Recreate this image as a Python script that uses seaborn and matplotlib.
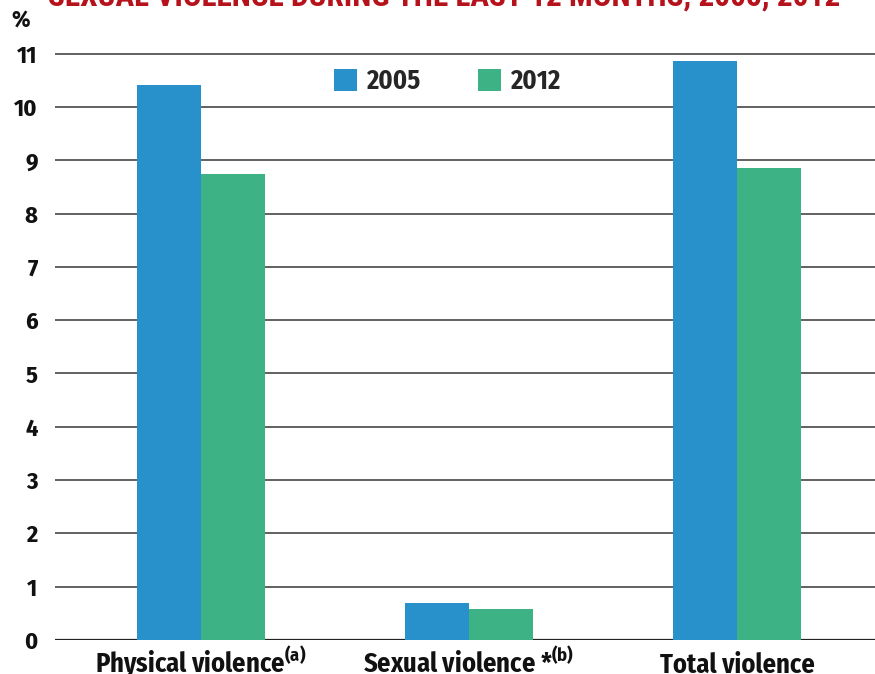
import matplotlib
matplotlib.use("Agg")
import matplotlib.pyplot as plt
from matplotlib.patches import Patch
import seaborn as sns
import pandas as pd

# Share of respondents experiencing violence (%)
categories = ["Physical violence", "Sexual violence *", "Total violence"]
category_labels = [
    r"Physical violence$^{\mathrm{(a)}}$",
    r"Sexual violence *$^{\mathrm{(b)}}$",
    "Total violence",
]
years = ["2005", "2012"]
values_2005 = [10.42, 0.69, 10.87]
values_2012 = [8.75, 0.58, 8.85]
y_ticks = list(range(0, 12))

colors = {"2005": "#2891CB", "2012": "#3DB285"}

df = pd.DataFrame({
    "category": categories * 2,
    "year": [years[0]] * 3 + [years[1]] * 3,
    "value": values_2005 + values_2012,
})

sns.set_theme(style="white")
FONT = ["Fira Sans Condensed", "DejaVu Sans"]
TITLE_FONT = ["Roboto Condensed", "DejaVu Sans"]
plt.rcParams["font.family"] = FONT
plt.rcParams["font.weight"] = "bold"
plt.rcParams["mathtext.fontset"] = "custom"
plt.rcParams["mathtext.rm"] = "Fira Sans Condensed:bold"
plt.rcParams["mathtext.it"] = "Fira Sans Condensed:bold"
plt.rcParams["mathtext.bf"] = "Fira Sans Condensed:bold"

INK = "#111111"
fig = plt.figure(figsize=(8.75, 6.74), dpi=100)
ax = fig.add_axes([55 / 875, 1 - 640 / 674, 1 - 55 / 875, (640 - 52) / 674])

# horizontal reference lines behind the bars
for t in y_ticks:
    ax.axhline(t, color="#222222" if t == 0 else "#555555",
               lw=1.6 if t == 0 else 1.3, zorder=0)

sns.barplot(data=df, x="category", y="value", hue="year", order=categories,
            hue_order=years, palette=colors, width=0.478, dodge=True,
            saturation=1, errorbar=None, ax=ax, zorder=2, legend=False,
            linewidth=0)

ax.set_xlim(-0.545, 2.515)
ax.set_ylim(0, 11.03)
ax.set_yticks(y_ticks)
ax.set_yticklabels([str(t) for t in y_ticks], fontsize=17.5, fontweight="bold",
                   color=INK)
ax.set_xticks(range(len(categories)))
ax.set_xticklabels(category_labels, fontsize=19, fontweight="bold", color=INK)
# keep all category names on a common baseline, superscripts or not
for lab in ax.get_xticklabels():
    lab.set_verticalalignment("baseline")
ax.tick_params(axis="y", length=0, pad=12.5)
ax.tick_params(axis="x", length=0, pad=23.5)
ax.set_xlabel("")
ax.set_ylabel("")
for s in ax.spines.values():
    s.set_visible(False)

handles = [Patch(facecolor=colors[y], edgecolor="none", label=y) for y in years]
fig.legend(handles=handles, loc="center", bbox_to_anchor=(0.511, 0.879),
           ncol=2, frameon=False, handlelength=0.87, handleheight=0.87,
           handletextpad=0.35, columnspacing=2.2, borderpad=0,
           prop={"family": FONT, "weight": "bold", "size": 19})

fig.text(21 / 875, 1 - 21 / 674, "%", ha="center", va="center", fontsize=17,
         fontweight="bold", color=INK)
fig.text(0.507, 1 - 6 / 674,
         "SEXUAL VIOLENCE DURING THE LAST 12 MONTHS, 2005, 2012",
         ha="center", va="baseline", fontsize=22.5, fontweight="bold",
         family=TITLE_FONT, color="#B5121B")

fig.savefig("out.png", dpi=100)
